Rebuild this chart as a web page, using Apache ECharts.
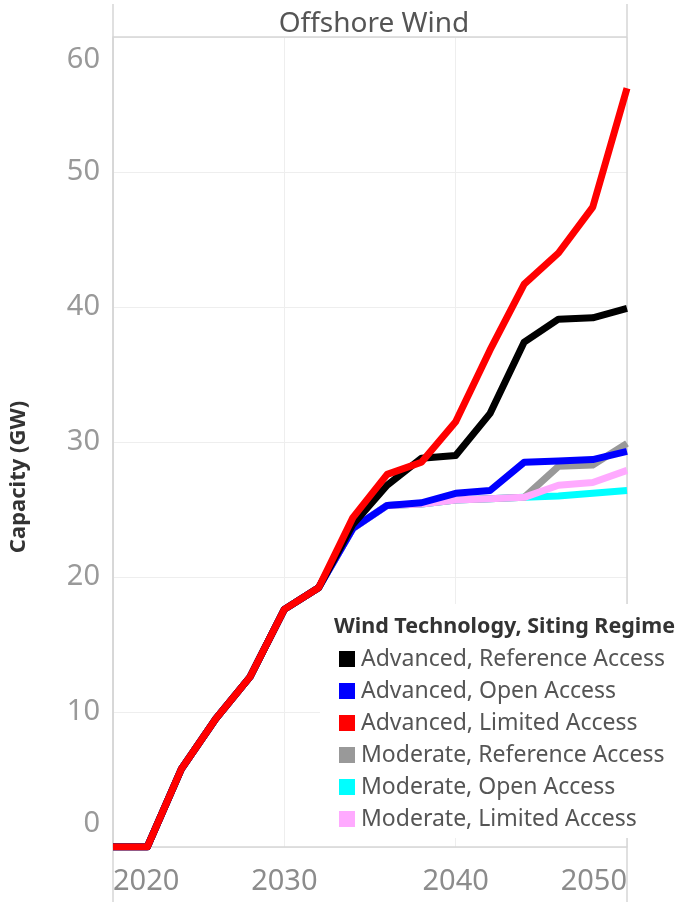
<!DOCTYPE html>
<html>
<head>
<meta charset="utf-8">
<script src="https://cdn.jsdelivr.net/npm/echarts@6/dist/echarts.min.js"></script>
<style>
  html, body { margin: 0; padding: 0; background: #fff; }
  #chart { width: 683px; height: 902px; }
</style>
</head>
<body>
<div id="chart"></div>
<script>
// Offshore wind capacity (GW) by wind technology and siting regime
const years = [2020, 2022, 2024, 2026, 2028, 2030, 2032, 2034, 2036, 2038, 2040, 2042, 2044, 2046, 2048, 2050];

const advancedReference = [0, 0, 5.8, 9.5, 12.6, 17.6, 19.2, 23.9, 26.8, 28.8, 29.0, 32.1, 37.4, 39.1, 39.2, 39.9];
const advancedOpen      = [0, 0, 5.8, 9.5, 12.6, 17.6, 19.2, 23.6, 25.3, 25.5, 26.2, 26.4, 28.5, 28.6, 28.7, 29.3];
const advancedLimited   = [0, 0, 5.8, 9.5, 12.6, 17.6, 19.2, 24.4, 27.6, 28.5, 31.5, 36.8, 41.7, 44.0, 47.4, 56.2];
const moderateReference = [0, 0, 5.8, 9.5, 12.6, 17.6, 19.2, 23.6, 25.3, 25.4, 25.7, 25.8, 25.9, 28.2, 28.3, 29.9];
const moderateOpen      = [0, 0, 5.8, 9.5, 12.6, 17.6, 19.2, 23.6, 25.3, 25.4, 25.7, 25.8, 25.9, 26.0, 26.2, 26.4];
const moderateLimited   = [0, 0, 5.8, 9.5, 12.6, 17.6, 19.2, 23.6, 25.3, 25.4, 25.7, 25.8, 25.9, 26.8, 27.0, 27.9];

const legendOrder = [
  'Advanced, Reference Access',
  'Advanced, Open Access',
  'Advanced, Limited Access',
  'Moderate, Reference Access',
  'Moderate, Open Access',
  'Moderate, Limited Access'
];

const FONT = '"Noto Sans", "Open Sans", sans-serif';
const BORDER = '#d6d6d6';

// drawing order: later series sit on top
const seriesDefs = [
  { name: 'Moderate, Open Access',      values: moderateOpen,      color: '#00ffff' },
  { name: 'Moderate, Reference Access', values: moderateReference, color: '#999999' },
  { name: 'Moderate, Limited Access',   values: moderateLimited,   color: '#ffaaff' },
  { name: 'Advanced, Open Access',      values: advancedOpen,      color: '#0000ff' },
  { name: 'Advanced, Reference Access', values: advancedReference, color: '#000000' },
  { name: 'Advanced, Limited Access',   values: advancedLimited,   color: '#ff0000' }
];

const chart = echarts.init(document.getElementById('chart'), null, { renderer: 'canvas' });

const option = {
  backgroundColor: '#ffffff',
  animation: false,
  textStyle: { fontFamily: FONT },
  title: [
    {
      text: 'Offshore Wind',
      left: 369, top: 5, textAlign: 'center',
      textStyle: { fontSize: 28, fontWeight: 'normal', color: '#555555', fontFamily: FONT }
    },
    {
      text: 'Wind Technology, Siting Regime',
      left: 329, top: 611, z: 20,
      textStyle: { fontSize: 21.5, fontWeight: 'bold', color: '#333333', fontFamily: FONT }
    }
  ],
  grid: { left: 113, right: 56, top: 37, bottom: 55, containLabel: false },
  xAxis: {
    type: 'value',
    min: 2020, max: 2050, interval: 10,
    axisLine: { show: true, lineStyle: { color: BORDER, width: 1.5 } },
    axisTick: { show: false },
    splitLine: { show: true, lineStyle: { color: '#eeeeee', width: 1 } },
    axisLabel: {
      formatter: v => String(v),
      color: '#8c8c8c', fontSize: 29, margin: 20, fontFamily: FONT,
      alignMinLabel: 'left', alignMaxLabel: 'right'
    }
  },
  yAxis: {
    type: 'value',
    min: 0, max: 60, interval: 10,
    name: 'Capacity (GW)',
    nameLocation: 'middle',
    nameRotate: 90,
    nameGap: 83,
    nameTextStyle: { fontSize: 22, fontWeight: 'bold', color: '#333333', fontFamily: FONT, padding: [0, 70, 0, 0] },
    axisLine: { show: true, lineStyle: { color: BORDER, width: 1.5 } },
    axisTick: { show: false },
    splitLine: { show: true, lineStyle: { color: '#eeeeee', width: 1 } },
    axisLabel: {
      color: '#999999', fontSize: 29, margin: 13, lineHeight: 46, fontFamily: FONT,
      verticalAlignMaxLabel: 'top', verticalAlignMinLabel: 'bottom'
    }
  },
  legend: {
    data: legendOrder,
    orient: 'vertical',
    left: 334, top: 642,
    icon: 'rect',
    itemWidth: 16, itemHeight: 16,
    itemGap: 8,
    z: 20,
    selectedMode: false,
    textStyle: { fontSize: 23, lineHeight: 24, color: '#555555', fontFamily: FONT, padding: [0, 0, 0, 1] }
  },
  graphic: [
    // white panel behind the legend
    { type: 'rect', shape: { x: 320, y: 604, width: 363, height: 234 }, style: { fill: '#ffffff' }, z: 10 },
    // pane borders and header
    { type: 'line', shape: { x1: 113, y1: 4, x2: 113, y2: 902 }, style: { stroke: BORDER, lineWidth: 1.5 }, z: 1 },
    { type: 'line', shape: { x1: 627, y1: 4, x2: 627, y2: 902 }, style: { stroke: BORDER, lineWidth: 1.5 }, z: 1 },
    { type: 'line', shape: { x1: 113, y1: 37, x2: 627, y2: 37 }, style: { stroke: BORDER, lineWidth: 1.5 }, z: 1 }
  ],
  series: seriesDefs.map(d => ({
    name: d.name,
    type: 'line',
    data: years.map((y, i) => [y, d.values[i]]),
    showSymbol: false,
    symbol: 'none',
    color: d.color,
    lineStyle: { color: d.color, width: 7, join: 'round' },
    z: 3
  }))
};

chart.setOption(option);
</script>
</body>
</html>
